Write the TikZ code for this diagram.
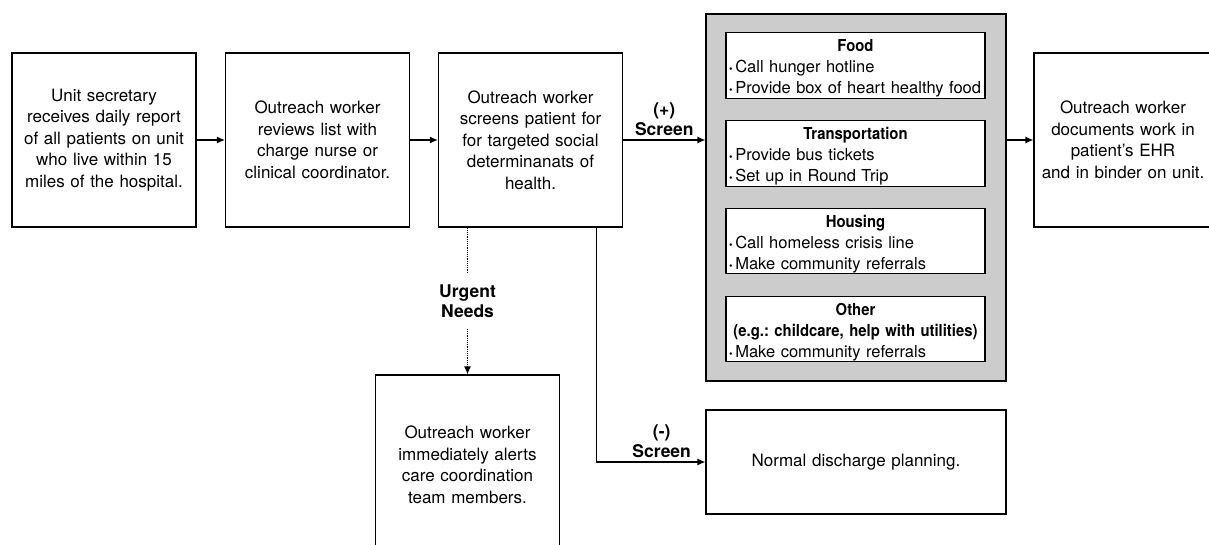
\documentclass[tikz,border=0pt]{standalone}
\usepackage{fontspec}
\setmainfont{TeX Gyre Heros}
\newfontfamily\narrowbf{TeX Gyre Heros}[FakeStretch=0.9]
\usetikzlibrary{arrows.meta}
\usetikzlibrary{calc}
\frenchspacing

\newcommand{\pnt}{{\fontsize{10}{10}\selectfont\textbullet}\,}
\newcommand{\ttl}[1]{\makebox[\linewidth]{\narrowbf\bfseries #1}}
\newcommand{\hd}[1]{\rule{0pt}{18pt}\ttl{#1}}

\begin{document}
\begin{tikzpicture}[x=1pt, y=-1pt, >={Latex[length=8pt,width=7pt]},
	stepbox/.style={draw, line width=1.2pt, inner sep=0pt, minimum width=184pt, minimum height=174pt, text width=170pt, align=center, font=\fontsize{17}{21.5}\selectfont},
	itembox/.style={draw, line width=1.2pt, fill=white, inner xsep=3pt, inner ysep=1pt, minimum width=259pt, minimum height=65pt, text width=253pt, align=left, font=\fontsize{16.5}{21}\selectfont},
	lbl/.style={align=center, font=\fontsize{17.5}{20}\selectfont\bfseries},
	link/.style={line width=1.2pt, ->}]
	\useasboundingbox (0,0) rectangle (1209,545);
	\clip (0,0) rectangle (1209,545);
	% main steps
	\node[stepbox] (unit) at (104,140) {Unit secretary\\receives daily report\\of all patients on unit\\who live within 15\\miles of the hospital.};
	\node[stepbox] (review) at (317.5,140) {Outreach worker\\reviews list with\\charge nurse or\\clinical coordinator.};
	\node[stepbox] (screen) at (530.5,140) {Outreach worker\\screens patient for\\for targeted social\\determinanats of\\health.};
	\node[stepbox, minimum width=178pt] (docs) at (1123,140) {Outreach worker\\documents work in\\patient’s EHR\\and in binder on unit.};
	\node[stepbox, minimum height=180pt] (urgent) at (467.5,465) {Outreach worker\\immediately alerts\\care coordination\\team members.};
	\node[stepbox, minimum width=300pt, minimum height=104pt, text width=290pt] (normal) at (856,462) {Normal discharge planning.};
	% services
	\node[draw, line width=1.2pt, fill=black!20, minimum width=300pt, minimum height=367pt] (services) at (856,197.5) {};
	\node[itembox] (food) at (855.5,65.5) {\hd{Food}\\\pnt Call hunger hotline\\\pnt Provide box of heart healthy food};
	\node[itembox] (transport) at (855.5,153.5) {\hd{Transportation}\\\pnt Provide bus tickets\\\pnt Set up in Round Trip};
	\node[itembox] (housing) at (855.5,241) {\hd{Housing}\\\pnt Call homeless crisis line\\\pnt Make community referrals};
	\node[itembox] (other) at (855.5,329) {\hd{Other}\\\ttl{(e.g.: childcare, help with utilities)}\\\pnt Make community referrals};
	% connectors
	\draw[link] (unit) -- (review);
	\draw[link] (review) -- (screen);
	\draw[link] (screen) -- node[lbl, above] {(+)\\Screen} (screen.east -| services.west);
	\draw[link] (services.east |- docs.west) -- (docs.west);
	\draw[link] ($(screen.south east)+(-27,0)$) |- node[lbl, above, pos=0.8] {(-)\\Screen} (normal.west);
	\draw[link, densely dotted] (urgent.north |- screen.south) -- node[lbl, fill=white, inner ysep=12pt] {Urgent\\Needs} (urgent.north);
\end{tikzpicture}
\end{document}
